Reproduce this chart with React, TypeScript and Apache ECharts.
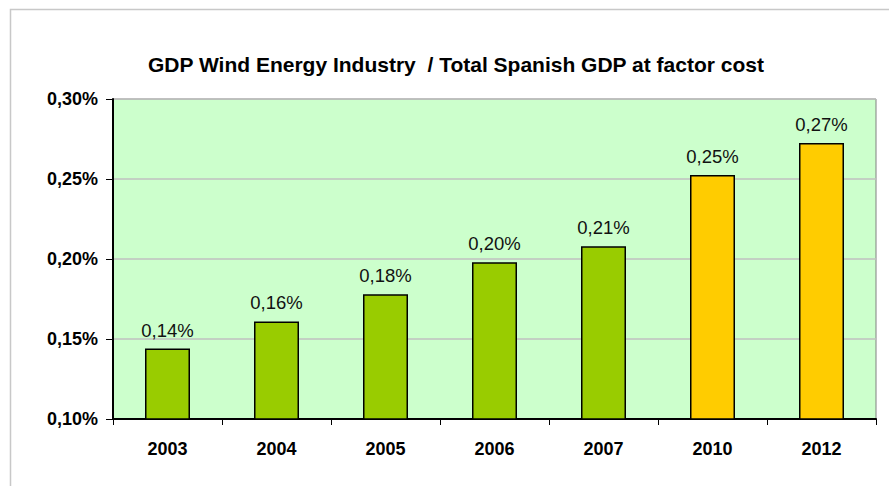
import React, { useEffect, useRef } from "react";
import * as echarts from "echarts";

const categories = ["2003", "2004", "2005", "2006", "2007", "2010", "2012"];
const values = [0.144, 0.161, 0.178, 0.198, 0.208, 0.2525, 0.2725];
const labels = ["0,14%", "0,16%", "0,18%", "0,20%", "0,21%", "0,25%", "0,27%"];
const barColors = ["#99CC00", "#99CC00", "#99CC00", "#99CC00", "#99CC00", "#FFCC00", "#FFCC00"];
const yTicks = [0.1, 0.15, 0.2, 0.25, 0.3];
const titleText = "GDP Wind Energy Industry  / Total Spanish GDP at factor cost";

export default function App() {
  const ref = useRef<HTMLDivElement>(null);
  useEffect(() => {
    if (!ref.current) return;
    const chart = echarts.init(ref.current, null, { renderer: "svg" });
    const font = "Liberation Sans, Arial, sans-serif";
    chart.setOption({
      animation: false,
      backgroundColor: "#ffffff",
      textStyle: { fontFamily: font },
      title: {
        text: titleText,
        left: 143,
        top: 49,
        textStyle: { fontSize: 21, fontWeight: "bold", color: "#000", fontFamily: font },
      },
      graphic: [
        {
          type: "rect",
          shape: { x: 10.5, y: 9.5, width: 1000, height: 1000 },
          style: { fill: "none", stroke: "#c8c8c8", lineWidth: 1.5 },
          silent: true,
          z: -1,
        },
      ],
      grid: {
        left: 113,
        top: 99,
        right: 13,
        bottom: 67,
        show: true,
        backgroundColor: "#CCFFCC",
        borderColor: "#808080",
        borderWidth: 1,
      },
      xAxis: {
        type: "category",
        data: categories,
        axisLine: { lineStyle: { color: "#000", width: 2 } },
        axisTick: { show: true, length: 6, lineStyle: { color: "#000", width: 1 }, alignWithLabel: false },
        axisLabel: { color: "#000", fontWeight: "bold", fontSize: 18, margin: 21, fontFamily: font },
        splitLine: { show: false },
      },
      yAxis: {
        type: "value",
        min: 0.1,
        max: 0.3,
        interval: 0.05,
        axisLine: { show: true, lineStyle: { color: "#000", width: 2 } },
        axisTick: { show: true, length: 7, lineStyle: { color: "#000", width: 1 } },
        axisLabel: {
          color: "#000",
          fontWeight: "bold",
          fontSize: 18,
          margin: 15,
          fontFamily: font,
          formatter: (v: number) => {
            const t = yTicks.find((x) => Math.abs(x - v) < 1e-6);
            return (t ?? v).toFixed(2).replace(".", ",") + "%";
          },
        },
        splitLine: { show: true, lineStyle: { color: "#c0c0c0", width: 1.5 } },
      },
      series: [
        {
          type: "bar",
          barWidth: 45,
          data: values.map((v, i) => ({
            value: v,
            itemStyle: { color: barColors[i], borderColor: "#000", borderWidth: 1.5 },
          })),
          label: {
            show: true,
            position: "top",
            distance: 9,
            color: "#111",
            fontSize: 18.5,
            fontFamily: font,
            formatter: (p: any) => labels[p.dataIndex],
          },
        },
      ],
    });
    return () => chart.dispose();
  }, []);
  return (
    <div
      ref={ref}
      style={{ position: "fixed", left: 0, top: 0, width: 889, height: 486 }}
    />
  );
}
